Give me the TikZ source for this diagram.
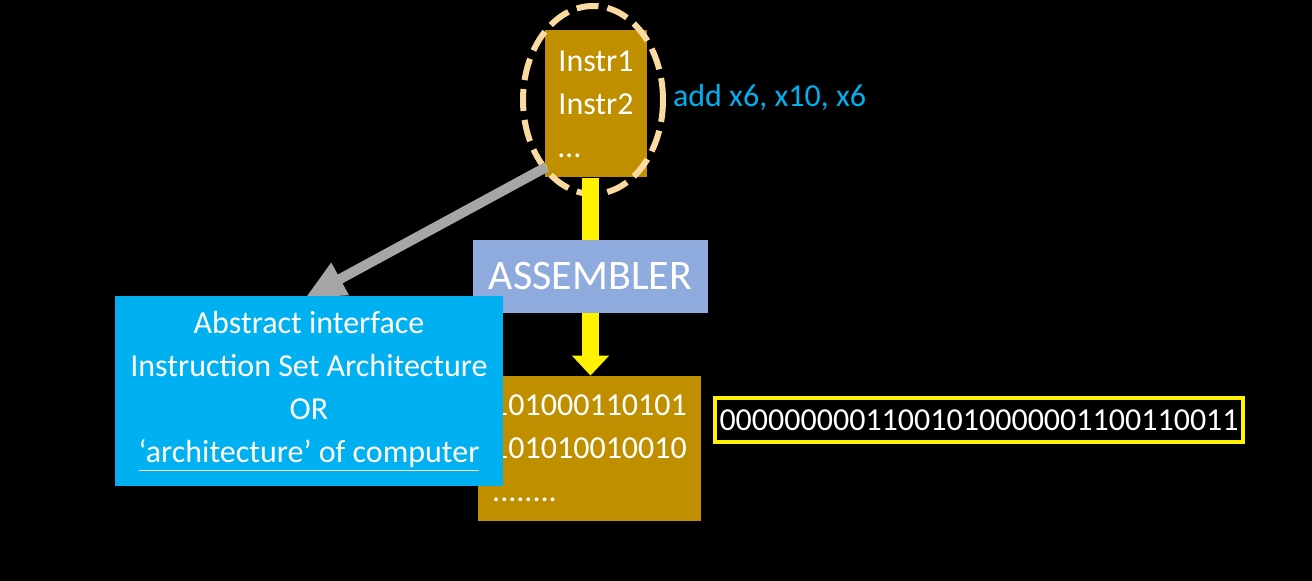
\documentclass[tikz,border=0pt]{standalone}
\usepackage{fontspec}
\setmainfont{Carlito}
\usetikzlibrary{arrows.meta,shapes.geometric}

\definecolor{gold}{RGB}{191,143,0}
\definecolor{skyblue}{RGB}{0,176,240}
\definecolor{asmblue}{RGB}{143,170,220}
\definecolor{dashtan}{RGB}{250,218,160}
\definecolor{arrowgrey}{RGB}{166,166,166}

\tikzset{
  txt/.style={font=\fontsize{16pt}{21.5pt}\selectfont},
  codebox/.style={txt, fill=gold, text=white, align=left},
  asmbox/.style={fill=asmblue, text=white, font=\fontsize{21pt}{25pt}\selectfont,
    minimum width=117.5pt, minimum height=36.5pt},
  isabox/.style={txt, fill=skyblue, text=white, align=center,
    minimum width=194pt, minimum height=95pt},
  yellowline/.style={yellow, line width=8.5pt},
  yellowarrow/.style={yellowline, -{Triangle[width=18pt,length=10pt]}},
  greyarrow/.style={arrowgrey, line width=5pt, -{Triangle[width=17pt,length=20pt]}}
}

\begin{document}
\begin{tikzpicture}[x=0.5pt, y=-0.5pt]

    % Slide background
    \fill[black] (0,0) rectangle (1312,581);

    % Source program and the dashed ring round it
    \node[codebox, minimum width=51pt, minimum height=73.5pt] (instr) at (596,104) {Instr1\\Instr2\\…};
    \node[draw=dashtan, ellipse, line width=3pt, dash pattern=on 11pt off 4.5pt,
      minimum width=70pt, minimum height=94pt] (ring) at (593,100) {};
    \node[txt, anchor=west, text=skyblue, yshift=1.5pt] (addline) at (ring.east) {add x6, x10, x6};

    % Machine code box
    \node[codebox, minimum width=111.5pt, minimum height=72.5pt] (binary) at (589.5,448.5) {101000110101\\101010010010\\........};

    % Assembler step
    \node[asmbox] (asm) at (590.5,276.5) {ASSEMBLER};
    \draw[yellowline] (instr.south -| asm.north) -- (asm.north);
    \draw[yellowarrow] (asm.south) -- (asm.south |- binary.north);

    % Arrow to the interface box
    \coordinate (greytip) at (305,298);
    \draw[greyarrow] ([shift={(2,-11)}]instr.south west) -- (greytip);

    % Interface box
    \node[isabox] (isa) at (309,391) {Abstract interface\\Instruction Set Architecture\\OR\\\underline{‘architecture’ of computer}};

    % Encoded instruction
    \node[txt, draw=yellow, line width=2pt, text=white, inner sep=1pt,
      minimum width=264pt, minimum height=22pt] (word) at (979,420) {00000000011001010000001100110011};

\end{tikzpicture}
\end{document}
